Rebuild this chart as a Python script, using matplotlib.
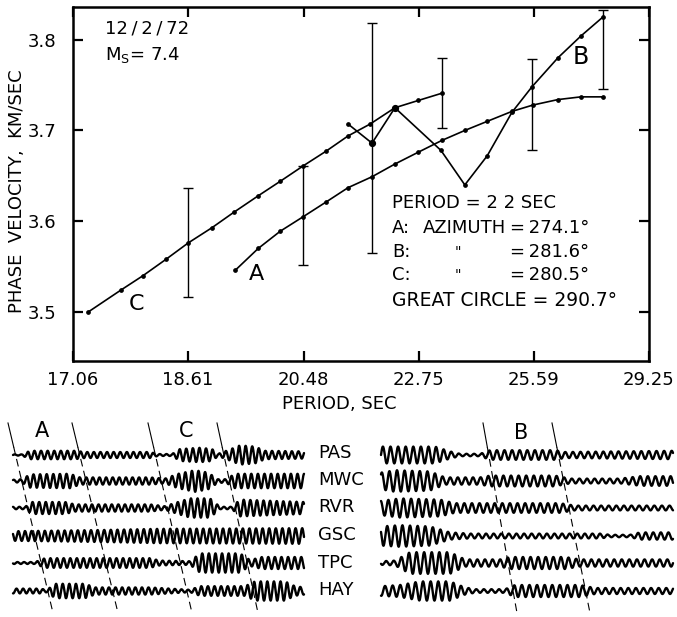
import numpy as np
import matplotlib
matplotlib.use("Agg")
from matplotlib import pyplot as plt

plt.rcParams['font.family'] = ['DejaVu Sans']
TS = "\u2009"  # thin space, the lettering is widely spaced

# ---- dispersion curves (period in s, phase velocity in km/s)
per_c = [17.25, 17.67, 17.97, 18.29, 18.61, 18.97, 19.31, 19.70, 20.07, 20.47,
         20.88, 21.30, 21.73, 22.24, 22.74, 23.27]
vel_c = [3.500, 3.524, 3.540, 3.558, 3.576, 3.593, 3.610, 3.628, 3.644, 3.661,
         3.677, 3.694, 3.707, 3.725, 3.733, 3.741]

per_a = [19.33, 19.70, 20.07, 20.47, 20.88, 21.30, 21.77, 22.24, 22.74, 23.27,
         23.81, 24.36, 25.00, 25.57, 26.28, 26.97, 27.67]
vel_a = [3.546, 3.570, 3.589, 3.605, 3.621, 3.637, 3.649, 3.663, 3.676, 3.689,
         3.700, 3.710, 3.721, 3.728, 3.734, 3.737, 3.737]

per_b = [21.30, 21.77, 22.24, 23.25, 23.81, 24.36, 25.00, 25.54, 26.28, 26.97, 27.67]
vel_b = [3.707, 3.686, 3.725, 3.678, 3.640, 3.672, 3.720, 3.748, 3.780, 3.804, 3.825]

# error bars
eb_per = [18.61, 20.47, 21.77, 23.27, 25.54, 27.67]
eb_lo = [3.517, 3.552, 3.565, 3.703, 3.678, 3.746]
eb_hi = [3.637, 3.661, 3.818, 3.780, 3.779, 3.833]

period_ticks = [17.06, 18.61, 20.48, 22.75, 25.59, 29.25]
period_labels = ["17.06", "18.61", "20.48", "22.75", "25.59", "29.25"]
vel_ticks = [3.5, 3.6, 3.7, 3.8]

# ---- seismograms: envelope knots (x, half amplitude)
stations = ["PAS", "MWC", "RVR", "GSC", "TPC", "HAY"]
row_y = [455, 481, 508, 536, 563, 591]
label_y = [453, 480, 507, 535, 563, 590]

env_left = [
    ([13, 22, 30, 75, 85, 150, 158, 172, 180, 200, 212, 218, 228, 240, 255, 265, 304],
     [0.5, 0.5, 3.5, 3.5, 2.5, 2.5, 0.8, 0.8, 5, 6, 5, 1, 4, 8, 7, 3.5, 3]),
    ([13, 22, 30, 70, 80, 150, 165, 178, 195, 208, 218, 226, 235, 260, 304],
     [1, 1.5, 5.5, 6, 3, 3, 2, 6, 9, 7, 1.5, 1.5, 6, 6, 6]),
    ([13, 25, 32, 65, 75, 150, 165, 178, 190, 210, 220, 232, 240, 270, 304],
     [1, 1, 5, 5, 3, 3, 1.5, 5, 8, 8, 1, 1, 7, 6, 5]),
    ([13, 100, 160, 304],
     [4, 5, 6, 6.5]),
    ([13, 35, 45, 150, 160, 190, 200, 240, 250, 262, 304],
     [0.8, 0.8, 4, 4, 2, 1.5, 8, 8, 2.5, 5, 5]),
    ([13, 40, 47, 55, 85, 95, 150, 180, 190, 200, 245, 255, 285, 295, 304],
     [2, 2, 1, 6, 6, 3, 3, 1.5, 1, 4, 4, 8, 8, 4, 3]),
]
env_right = [
    ([381, 435, 450, 460, 480, 490, 555, 565, 673],
     [7, 7, 3, 1, 1, 4, 4, 2.5, 3.5]),
    ([381, 395, 430, 445, 480, 490, 555, 570, 620, 640, 673],
     [7, 9, 8, 3, 3, 4.5, 4.5, 2, 2, 4, 4]),
    ([381, 400, 440, 455, 560, 575, 673],
     [6, 8, 7, 4, 4, 2, 2]),
    ([381, 400, 430, 450, 470, 600, 610, 630, 640, 673],
     [8, 9, 8, 3, 2, 2, 1, 1, 3, 3]),
    ([381, 395, 410, 450, 465, 500, 510, 565, 580, 673],
     [1.5, 2, 9, 9, 3, 3, 5, 5, 3, 3]),
    ([381, 400, 420, 450, 465, 475, 505, 515, 580, 595, 673],
     [4, 5, 8, 8, 3, 1.5, 1.5, 5, 5, 2.5, 2.5]),
]
# phase picks (slanted lines): x at top and bottom of the record
pick_top = [8, 72, 148, 217, 483, 552]
pick_bot = [53, 118, 192, 258, 517, 590]


fig = plt.figure(figsize=(6.77, 6.17), dpi=100)
ax = fig.add_axes([73 / 677, 1 - 361 / 617, 576 / 677, 354 / 617])
# abscissa linear in frequency
ax.set_xscale('function', functions=(lambda t: -1.0 / t, lambda u: -1.0 / u))
ax.set_xlim(17.06, 29.25)
ax.set_ylim(3.446, 3.836)

kw = dict(color='black', lw=1.2, marker='o', ms=2.4)
ax.plot(per_c, vel_c, **kw)
ax.plot(per_a, vel_a, **kw)
ax.plot(per_b, vel_b, **kw)
ax.plot(per_b[1:3], vel_b[1:3], 'o', color='black', ms=4.2)

lo = np.array(eb_lo)
hi = np.array(eb_hi)
ax.errorbar(eb_per, (lo + hi) / 2, yerr=(hi - lo) / 2, fmt='none',
            ecolor='black', elinewidth=1.0, capsize=3.5, capthick=1.0)

ax.set_xticks(period_ticks, period_labels)
ax.set_yticks(vel_ticks, [str(v) for v in vel_ticks])
ax.tick_params(direction='in', length=7, width=1.6, top=True, right=True,
               labelsize=13)
ax.tick_params(axis='y', pad=12)
ax.tick_params(axis='x', pad=7)
for s in ax.spines.values():
    s.set_linewidth(1.8)

ax.set_xlabel("PERIOD, SEC", fontsize=13, va='top')
ax.set_ylabel("PHASE  VELOCITY,  KM/SEC", fontsize=13, va='center')
ax.xaxis.set_label_coords(0.462, -0.095)
ax.yaxis.set_label_coords(-0.098, 0.48)

tr = ax.transAxes
ax.text(0.0556, 0.94, "12" + TS + "/" + TS + "2" + TS + "/" + TS + "72",
        transform=tr, fontsize=13, va='center')
ax.text(0.0556, 0.863, r"M$_\mathregular{S}$= 7.4", transform=tr, fontsize=13,
        va='center')
ax.text(0.3186, 0.246, "A", transform=tr, fontsize=16, ha='center', va='center')
ax.text(0.111, 0.161, "C", transform=tr, fontsize=16, ha='center', va='center')
ax.text(0.882, 0.859, "B", transform=tr, fontsize=17, ha='center', va='center')

x0, x1, x2, x3 = 0.5538, 0.6076, 0.6632, 0.7587
ax.text(x0, 0.446, "PERIOD = 2 2 SEC", transform=tr, fontsize=13, va='center')
ax.text(x0, 0.3757, "A:", transform=tr, fontsize=13, va='center')
ax.text(x1, 0.3757, "AZIMUTH", transform=tr, fontsize=13, va='center')
ax.text(x3, 0.3757, "=" + TS + "274.1°", transform=tr, fontsize=13, va='center')
ax.text(x0, 0.3079, "B:", transform=tr, fontsize=13, va='center')
ax.text(x2, 0.3079, '"', transform=tr, fontsize=10, va='center')
ax.text(x3, 0.3079, "=" + TS + "281.6°", transform=tr, fontsize=13, va='center')
ax.text(x0, 0.2429, "C:", transform=tr, fontsize=13, va='center')
ax.text(x2, 0.2429, '"', transform=tr, fontsize=10, va='center')
ax.text(x3, 0.2429, "=" + TS + "280.5°", transform=tr, fontsize=13, va='center')
ax.text(x0, 0.1723, "GREAT CIRCLE = 290.7°", transform=tr, fontsize=13.5, va='center')

# ---- seismogram record, drawn in image pixel units
sx = fig.add_axes([0, 0, 1, 212 / 617])
sx.set_xlim(0, 677)
sx.set_ylim(617, 405)
sx.axis('off')

for envs, lam in ((env_left, 6.6), (env_right, 7.6)):
    for i, (xk, ak) in enumerate(envs):
        x = np.linspace(xk[0], xk[-1], 2000)
        env = 1.2 * np.interp(x, xk, ak)
        y = row_y[i] - env * np.sin(2 * np.pi * (x - xk[0]) / lam + 0.9 * i)
        sx.plot(x, y, color='black', lw=1.7, solid_capstyle='round',
                solid_joinstyle='round')

for i, name in enumerate(stations):
    sx.text(318, label_y[i], name, fontsize=13, va='center')

for xt, xb in zip(pick_top, pick_bot):
    ys = 447
    xs = xt + (xb - xt) * (ys - 423) / (613 - 423)
    sx.plot([xt, xs], [423, ys], color='black', lw=0.8)
    sx.plot([xs, xb], [ys, 613], color='black', lw=0.8, dashes=(7, 4))

sx.text(42, 431, "A", fontsize=15, ha='center', va='center')
sx.text(186, 431, "C", fontsize=15, ha='center', va='center')
sx.text(521, 433, "B", fontsize=15, ha='center', va='center')

fig.savefig("out.png", dpi=100)
